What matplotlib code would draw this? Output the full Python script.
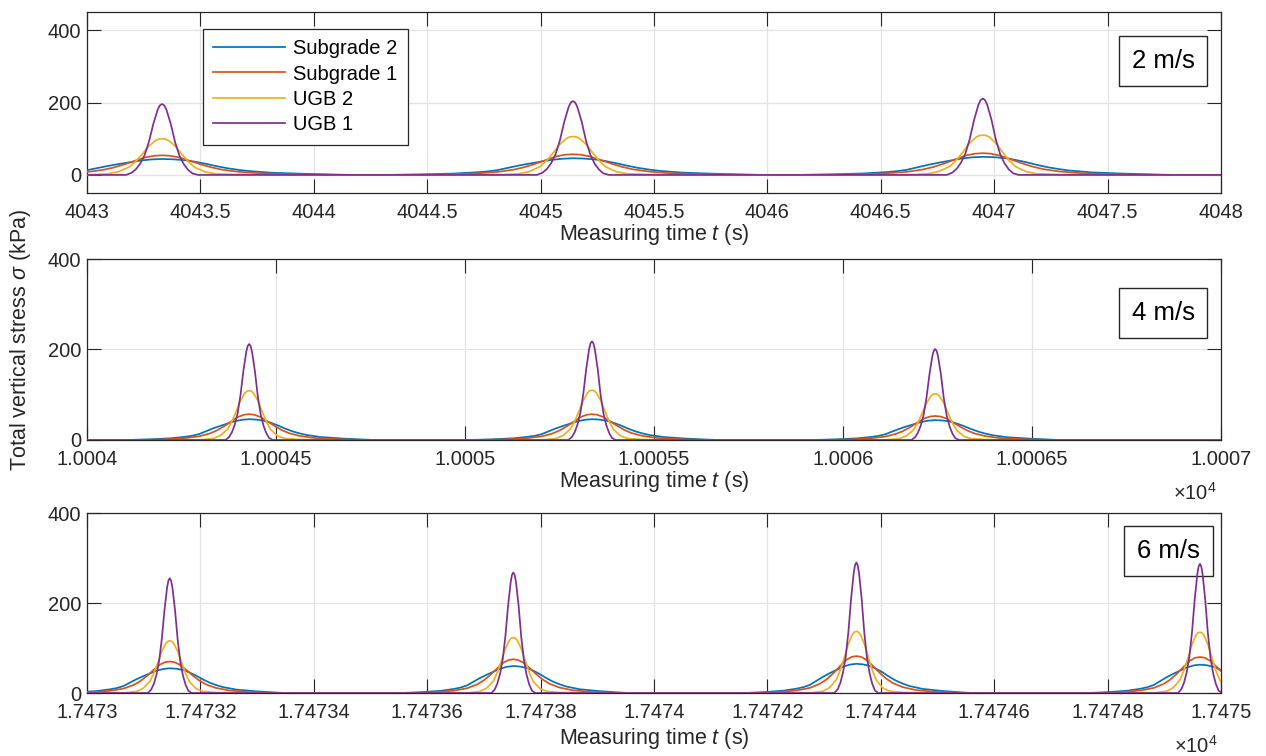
import numpy as np
import matplotlib
matplotlib.use("Agg")
import matplotlib.pyplot as plt
from matplotlib.ticker import FixedLocator, FixedFormatter

plt.rcParams['font.family'] = ['Liberation Sans', 'DejaVu Sans']
plt.rcParams['mathtext.fontset'] = 'custom'
plt.rcParams['mathtext.rm'] = 'Liberation Sans'
plt.rcParams['mathtext.it'] = 'Liberation Sans:italic'
plt.rcParams['mathtext.sf'] = 'Liberation Sans'

# ---------------- data ----------------
series_names = ['Subgrade 2', 'Subgrade 1', 'UGB 2', 'UGB 1']
series_colors = ['#0072BD', '#D95319', '#EDB120', '#7E2F8E']
speed_labels = ['2 m/s', '4 m/s', '6 m/s']

# peak arrival times (s)
peak_times_2ms = [4043.331, 4045.143, 4046.950]
peak_times_4ms = [10004.429, 10005.336, 10006.244]
peak_times_6ms = [17473.146, 17473.752, 17474.357, 17474.963]

# peak stresses (kPa), order: Subgrade 2, Subgrade 1, UGB 2, UGB 1
peaks_2ms = [[44, 46, 50], [54, 57, 60], [100, 106, 110], [196, 204, 211]]
peaks_4ms = [[46, 46, 44], [57, 57, 53], [109, 110, 102], [212, 218, 201]]
peaks_6ms = [[55, 60, 65, 63], [70, 75, 82, 80], [116, 123, 137, 135], [255, 268, 290, 287]]

# baseline stress between passes (kPa)
baseline = [0, 0, 0]

# pulse time unit per panel (s)
pulse_unit = [0.0480, 0.0190, 0.0117]

# normalised pulse shapes (offset in pulse units, value / peak)
sub2_off = [-17, -14, -11, -9, -8, -7, -6, -5, -4, -3, -2, -1, 0, 1, 2, 3, 4, 5, 6, 7, 8, 10, 13, 16, 17.5]
sub2_val = [0, 0.03, 0.08, 0.15, 0.2, 0.28, 0.42, 0.56, 0.68, 0.79, 0.9, 0.97, 1, 0.98, 0.93, 0.83, 0.7,
            0.55, 0.42, 0.32, 0.24, 0.14, 0.07, 0.02, 0]
sub1_off = [-16, -12, -9, -7, -5.5, -4.5, -3.5, -2.4, -1.5, -0.7, 0, 0.7, 1.5, 2.4, 3.5, 4.5, 5.5, 7, 9, 12, 16]
sub1_val = [0, 0.02, 0.07, 0.14, 0.25, 0.37, 0.53, 0.74, 0.9, 0.98, 1, 0.98, 0.9, 0.75, 0.55, 0.39, 0.27,
            0.16, 0.08, 0.03, 0]
ugb2_off = [-7, -5, -4, -3, -2.4, -1.8, -1.2, -0.6, -0.3, 0, 0.3, 0.6, 1.2, 1.8, 2.4, 3, 4, 5, 7, 10]
ugb2_val = [0, 0.03, 0.09, 0.22, 0.38, 0.58, 0.8, 0.95, 0.99, 1, 0.99, 0.95, 0.8, 0.58, 0.37, 0.21, 0.08,
            0.03, 0.01, 0]
ugb1_off = [-5, -3.3, -2.8, -2.4, -2.0, -1.6, -1.2, -0.8, -0.4, -0.2, 0, 0.2, 0.4, 0.8, 1.2, 1.6, 2.0, 2.4,
            2.8, 3.3, 5]
ugb1_val = [0, 0, 0.03, 0.08, 0.16, 0.28, 0.47, 0.72, 0.92, 0.98, 1, 0.98, 0.92, 0.72, 0.46, 0.27, 0.15,
            0.07, 0.02, 0, 0]

x_ticks_2ms = [4043, 4043.5, 4044, 4044.5, 4045, 4045.5, 4046, 4046.5, 4047, 4047.5, 4048]
x_labels_2ms = ['4043', '4043.5', '4044', '4044.5', '4045', '4045.5', '4046', '4046.5', '4047', '4047.5', '4048']
x_ticks_4ms = [10004, 10004.5, 10005, 10005.5, 10006, 10006.5, 10007]
x_labels_4ms = ['1.0004', '1.00045', '1.0005', '1.00055', '1.0006', '1.00065', '1.0007']
x_ticks_6ms = [17473, 17473.2, 17473.4, 17473.6, 17473.8, 17474, 17474.2, 17474.4, 17474.6, 17474.8, 17475]
x_labels_6ms = ['1.7473', '1.74732', '1.74734', '1.74736', '1.74738', '1.7474', '1.74742', '1.74744',
                '1.74746', '1.74748', '1.7475']
y_ticks = [0, 200, 400]

# ---------------- figure ----------------
fig = plt.figure(figsize=(12.66, 7.56), dpi=100)
axes_rects = [[0.0687, 0.7447, 0.8957, 0.2394],
              [0.0687, 0.4180, 0.8957, 0.2394],
              [0.0687, 0.0833, 0.8957, 0.2381]]
xlims = [(4043, 4048), (10004, 10007), (17473, 17475)]
ylims = [(-50, 450), (0, 400), (0, 400)]
peak_times_all = [peak_times_2ms, peak_times_4ms, peak_times_6ms]
peaks_all = [peaks_2ms, peaks_4ms, peaks_6ms]
ticks_all = [(x_ticks_2ms, x_labels_2ms), (x_ticks_4ms, x_labels_4ms), (x_ticks_6ms, x_labels_6ms)]
shapes = [(sub2_off, sub2_val), (sub1_off, sub1_val), (ugb2_off, ugb2_val), (ugb1_off, ugb1_val)]
box_pos = [(0.949, 0.729), (0.949, 0.700), (0.954, 0.789)]
xlabel_pads = [0, 0, 3]

frame_col = '#262626'
fs = 14.5
lfs = 15.5

for i in range(3):
    ax = fig.add_axes(axes_rects[i])
    u = pulse_unit[i]
    for s in range(4):
        off, val = shapes[s]
        tt, yy = [xlims[i][0] - 1.0], [baseline[i]]
        for k, pt in enumerate(peak_times_all[i]):
            tt.extend(pt + np.array(off) * u)
            yy.extend(baseline[i] + peaks_all[i][s][k] * np.array(val))
        tt.append(xlims[i][1] + 1.0)
        yy.append(baseline[i])
        ax.plot(tt, yy, color=series_colors[s], lw=1.25, label=series_names[s], zorder=3,
                solid_joinstyle='round')
    ax.set_xlim(*xlims[i])
    ax.set_ylim(*ylims[i])
    xt, xl = ticks_all[i]
    ax.xaxis.set_major_locator(FixedLocator(xt))
    ax.xaxis.set_major_formatter(FixedFormatter(xl))
    ax.set_yticks(y_ticks)
    ax.grid(True, color='#e3e3e3', lw=0.9, zorder=0)
    ax.set_axisbelow(True)
    ax.tick_params(direction='in', length=10, width=0.8, colors=frame_col, labelcolor='#262626',
                   labelsize=fs, top=True, right=True)
    ax.tick_params(axis='x', pad=7)
    ax.tick_params(axis='y', pad=4)
    for sp in ax.spines.values():
        sp.set_color(frame_col)
        sp.set_linewidth(0.9)
    ax.set_xlabel('Measuring time $\\it{t}$ (s)', fontsize=lfs, color='#262626', labelpad=xlabel_pads[i])
    ax.text(box_pos[i][0], box_pos[i][1], speed_labels[i], transform=ax.transAxes,
            ha='center', va='center', fontsize=18.5, color='black', zorder=2,
            bbox=dict(boxstyle='square,pad=0.5', fc='white', ec=frame_col, lw=1.0))
    if i == 0:
        leg = ax.legend(loc='upper left', bbox_to_anchor=(0.102, 0.906), fontsize=14.5,
                        handlelength=3.6, handletextpad=0.4, labelspacing=0.32, borderpad=0.5,
                        borderaxespad=0, fancybox=False, framealpha=1, edgecolor=frame_col)
        leg.get_frame().set_linewidth(0.9)
        leg.set_zorder(5)

fig.text(0.016, 0.55, 'Total vertical stress $\\sigma$ (kPa)', rotation=90, ha='center', va='center',
         fontsize=lfs, color='#262626')
fig.text(0.944, 0.348, '$\\times\\mathregular{10^{4}}$', ha='center', va='center', fontsize=fs, color='#262626')
fig.text(0.945, 0.014, '$\\times\\mathregular{10^{4}}$', ha='center', va='center', fontsize=fs, color='#262626')

fig.savefig('out.png', dpi=100)
